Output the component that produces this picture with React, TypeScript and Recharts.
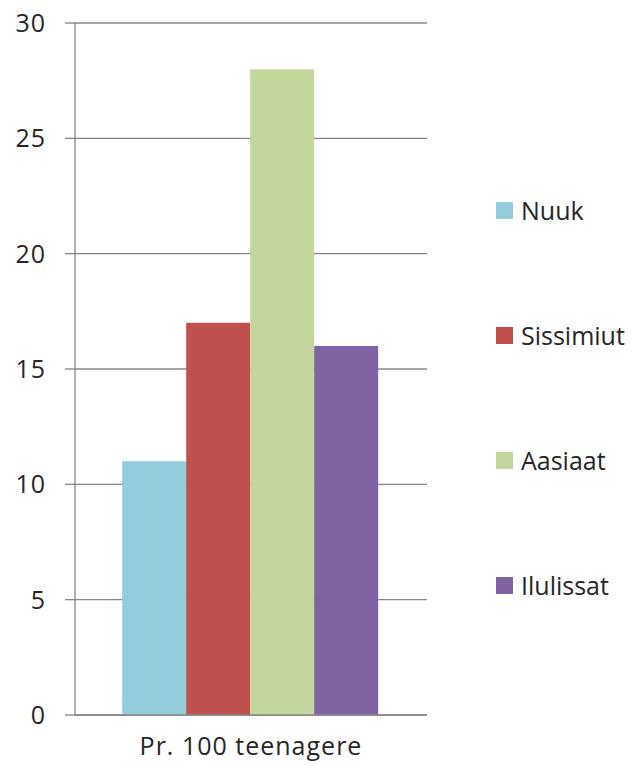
import React from "react";
import { BarChart, Bar, XAxis, YAxis, CartesianGrid } from "recharts";

const categories = ["Pr. 100 teenagere"];
const seriesNames = ["Nuuk", "Sissimiut", "Aasiaat", "Ilulissat"];
const seriesValues = [11, 17, 28, 16];
const seriesColors = ["#93CDDD", "#C0504D", "#C3D69B", "#8064A2"];
const yTicks = [0, 5, 10, 15, 20, 25, 30];

const data = categories.map((name) => {
  const row: Record<string, string | number> = { name };
  seriesNames.forEach((s, i) => {
    row[s] = seriesValues[i];
  });
  return row;
});

const FONT = "'Open Sans', Lato, sans-serif";
const TEXT = "#262626";
const AXIS_GREY = "#878787";

export default function App() {
  return (
    <div style={{ position: "absolute", left: 0, top: 0, width: 634, height: 766, background: "#fff", fontFamily: FONT }}>
      <BarChart
        width={634}
        height={766}
        data={data}
        margin={{ top: 23, right: 207, bottom: 0, left: 0 }}
        barCategoryGap="13.4%"
        barGap={0}
      >
        <CartesianGrid vertical={false} stroke={AXIS_GREY} strokeWidth={1.3} />
        <XAxis
          dataKey="name"
          axisLine={{ stroke: AXIS_GREY, strokeWidth: 1.3 }}
          tickLine={false}
          tick={{ fill: TEXT, fontSize: 25, fontFamily: FONT, letterSpacing: 1 }}
          tickMargin={16}
          height={51}
        />
        <YAxis
          domain={[0, 30]}
          ticks={yTicks}
          width={75}
          interval={0}
          axisLine={{ stroke: AXIS_GREY, strokeWidth: 1.3 }}
          tickLine={{ stroke: AXIS_GREY, strokeWidth: 1.3 }}
          tickSize={10}
          tickMargin={19}
          tick={{ fill: TEXT, fontSize: 25, fontFamily: FONT, letterSpacing: 1 }}
        />
        {seriesNames.map((s, i) => (
          <Bar key={s} dataKey={s} fill={seriesColors[i]} isAnimationActive={false} />
        ))}
      </BarChart>
      <div style={{ position: "absolute", left: 496, top: 196 }}>
        {seriesNames.map((s, i) => (
          <div key={s} style={{ display: "flex", alignItems: "center", height: 28, marginBottom: i < seriesNames.length - 1 ? 97 : 0 }}>
            <div style={{ width: 17, height: 17, background: seriesColors[i], marginRight: 8 }} />
            <span style={{ fontSize: 25, lineHeight: "28px", color: TEXT, fontFamily: FONT }}>{s}</span>
          </div>
        ))}
      </div>
    </div>
  );
}
